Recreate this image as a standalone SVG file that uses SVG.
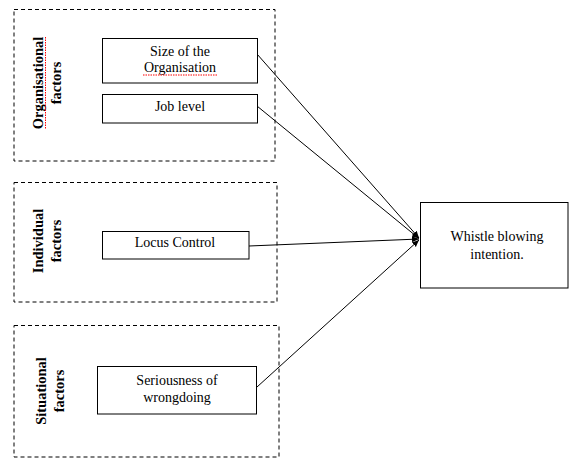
<svg xmlns="http://www.w3.org/2000/svg" width="578" height="468" viewBox="0 0 578 468">
<style>
.grp{fill:none;stroke:#000;stroke-width:1;stroke-dasharray:4,3}
.box{fill:#fff;stroke:#000;stroke-width:1}
.t{font-family:"Liberation Serif","Times New Roman",serif;font-size:14px;fill:#000;text-anchor:middle}
.b{font-weight:bold;font-size:14.5px}
.conn{stroke:#000;stroke-width:1;fill:none}
.sq{fill:none;stroke:#f00;stroke-width:1;stroke-dasharray:1.5,1}
</style>
<defs>
<marker id="ah" markerUnits="userSpaceOnUse" markerWidth="8" markerHeight="8" refX="7" refY="4" orient="auto">
<path d="M0,1 L7,4 L0,7 Z" fill="#000"/>
</marker>
</defs>
<rect width="578" height="468" fill="#fff"/>
<g id="grp-organisational">
<rect class="grp" x="14" y="9.5" width="261" height="151.5"/>
<text class="t b" transform="translate(43,83) rotate(-90)">Organisational</text>
<path class="sq" d="M45.5,37 L45.5,129"/>
<text class="t b" transform="translate(61,83) rotate(-90)">factors</text>
</g>
<g id="grp-individual">
<rect class="grp" x="14" y="182.5" width="263" height="119.5"/>
<text class="t b" transform="translate(43,241) rotate(-90)">Individual</text>
<text class="t b" transform="translate(61,241) rotate(-90)">factors</text>
</g>
<g id="grp-situational">
<rect class="grp" x="14" y="325.5" width="265" height="131.5"/>
<text class="t b" transform="translate(46,391) rotate(-90)">Situational</text>
<text class="t b" transform="translate(64,391) rotate(-90)">factors</text>
</g>
<g id="connectors">
<line class="conn" x1="257" y1="54" x2="419" y2="238" marker-end="url(#ah)"/>
<line class="conn" x1="257" y1="106" x2="419" y2="238.5" marker-end="url(#ah)"/>
<line class="conn" x1="249" y1="246" x2="419" y2="239" marker-end="url(#ah)"/>
<line class="conn" x1="257" y1="387" x2="419" y2="240" marker-end="url(#ah)"/>
</g>
<g id="node-size">
<rect class="box" x="102.5" y="38.5" width="155" height="44.5"/>
<text class="t" x="180" y="56">Size of the</text>
<text class="t" x="180" y="72">Organisation</text>
<path class="sq" d="M143,75 L218,75"/>
</g>
<g id="node-job">
<rect class="box" x="102.5" y="94.5" width="155" height="28.5"/>
<text class="t" x="180" y="111">Job level</text>
</g>
<g id="node-locus">
<rect class="box" x="102.5" y="231.5" width="146.5" height="27.5"/>
<text class="t" x="175" y="247">Locus Control</text>
</g>
<g id="node-seriousness">
<rect class="box" x="97.5" y="366.5" width="159" height="47.5"/>
<text class="t" x="177" y="385">Seriousness of</text>
<text class="t" x="177" y="402">wrongdoing</text>
</g>
<g id="node-whistle">
<rect class="box" x="420.5" y="202.5" width="147.5" height="85.5"/>
<text class="t" x="497" y="241">Whistle blowing</text>
<text class="t" x="497" y="259">intention.</text>
</g>
</svg>
